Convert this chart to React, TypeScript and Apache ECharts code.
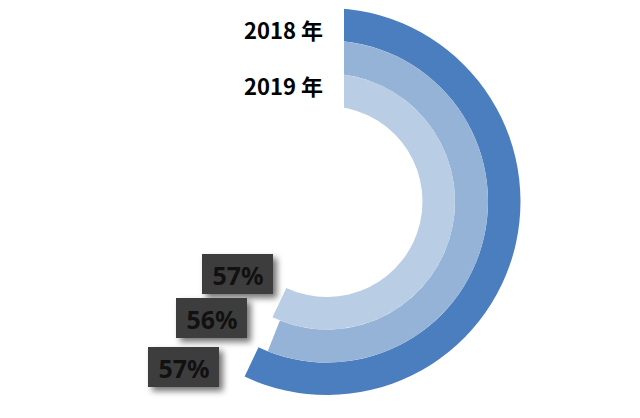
import React, { useEffect, useRef } from "react";
import * as echarts from "echarts";

// Rings from outer to inner
const ringValues = [57, 56, 57];
const ringColors = ["#4A7EBF", "#95B3D7", "#B9CDE5"];
const yearLabels = ["2018 年", "2019 年"];

export default function App() {
  const ref = useRef<HTMLDivElement>(null);
  useEffect(() => {
    if (!ref.current) return;
    const chart = echarts.init(ref.current, undefined, { renderer: "svg" });
    const radii = [
      [161, 193.5],
      [128, 161],
      [95.5, 128],
    ];
    const series = ringValues.map((v, i) => ({
      type: "pie",
      center: [327, 201.5],
      radius: radii[i],
      startAngle: 90,
      clockwise: true,
      silent: true,
      avoidLabelOverlap: false,
      label: { show: false },
      labelLine: { show: false },
      emphasis: { disabled: true },
      data: [
        { value: v, itemStyle: { color: ringColors[i] } },
        { value: 100 - v, itemStyle: { color: "rgba(0,0,0,0)" } },
      ],
    }));
    // percentage boxes: inner ring at top, outer ring at bottom
    const boxPos = [
      [202, 254],
      [176, 298],
      [148, 347],
    ];
    const boxVals = [ringValues[2], ringValues[1], ringValues[0]];
    const boxes = boxVals.map((v, i) => ({
      type: "group",
      x: boxPos[i][0],
      y: boxPos[i][1],
      z: 110,
      children: [
        {
          type: "rect",
          shape: { x: 0, y: 0, width: 71, height: 40 },
          style: {
            fill: "#3d3d3d",
            shadowBlur: 6,
            shadowOffsetX: 4,
            shadowOffsetY: 4,
            shadowColor: "rgba(0,0,0,0.55)",
          },
        },
        {
          type: "text",
          x: 36,
          y: 21,
          style: {
            text: `${v}%`,
            fill: "#111111",
            font: "bold 25px 'Noto Sans', sans-serif",
            align: "center",
            verticalAlign: "middle",
          },
        },
      ],
    }));
    chart.setOption({
      animation: false,
      backgroundColor: "#ffffff",
      series,
      graphic: [
        {
          type: "rect",
          z: 100,
          shape: { x: 230, y: 0, width: 114, height: 109 },
          style: { fill: "#ffffff" },
        },
        {
          type: "text",
          z: 101,
          x: 323,
          y: 29,
          style: {
            text: yearLabels[0],
            fill: "#000000",
            font: "bold 22px 'Noto Sans CJK SC', sans-serif",
            align: "right",
            verticalAlign: "middle",
          },
        },
        {
          type: "text",
          z: 101,
          x: 323,
          y: 85,
          style: {
            text: yearLabels[1],
            fill: "#000000",
            font: "bold 22px 'Noto Sans CJK SC', sans-serif",
            align: "right",
            verticalAlign: "middle",
          },
        },
        ...boxes,
      ],
    });
    return () => chart.dispose();
  }, []);
  return (
    <div
      ref={ref}
      style={{ position: "fixed", left: 0, top: 0, width: 640, height: 418 }}
    />
  );
}
